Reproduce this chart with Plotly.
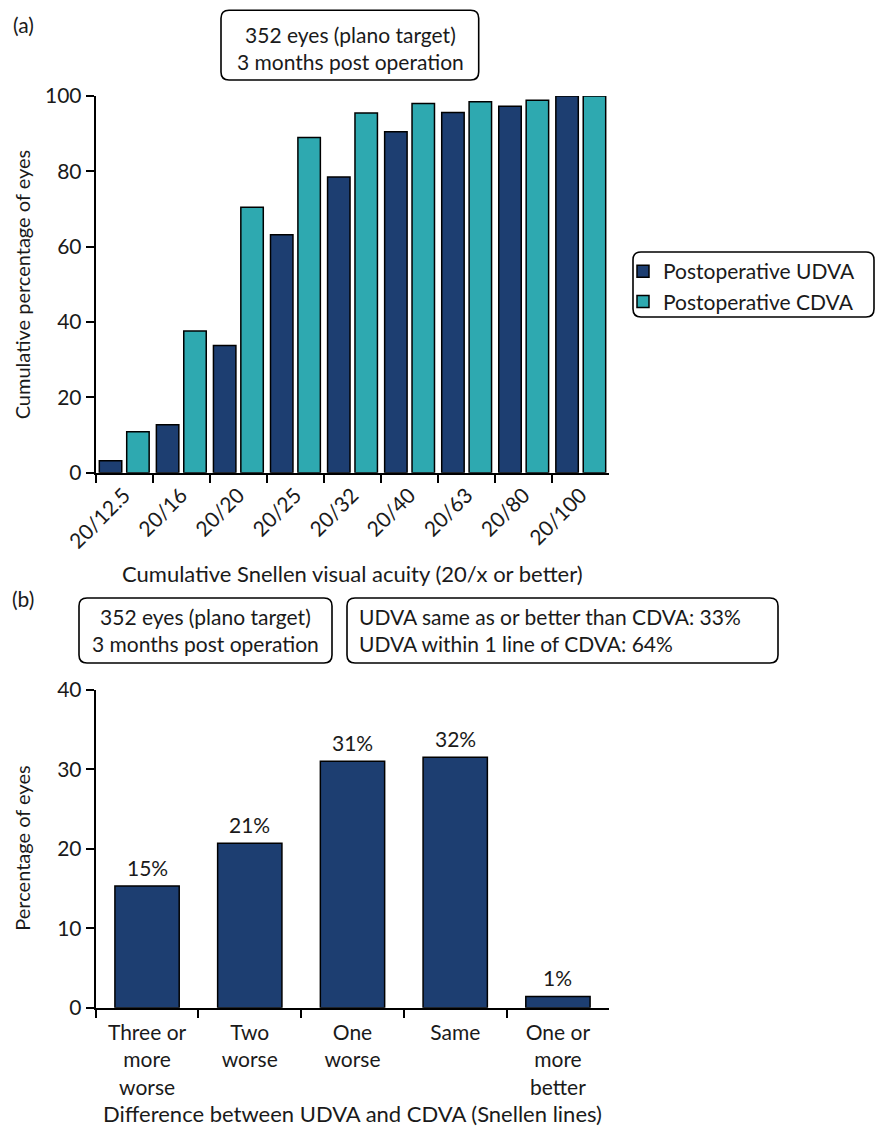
import plotly.graph_objects as go

W, H = 876, 1131

# Panel (a): cumulative Snellen visual acuity (20/x or better), % of eyes
acuity_labels = ["20/12.5", "20/16", "20/20", "20/25", "20/32", "20/40", "20/63", "20/80", "20/100"]
udva_cumulative = [3.2, 12.7, 33.8, 63.2, 78.5, 90.5, 95.6, 97.3, 100.0]
cdva_cumulative = [10.9, 37.6, 70.5, 89.0, 95.5, 98.0, 98.5, 98.9, 100.0]

# Panel (b): difference between UDVA and CDVA in Snellen lines, % of eyes
difference_labels = ["Three or<br>more<br>worse", "Two<br>worse", "One<br>worse", "Same", "One or<br>more<br>better"]
difference_pct = [15.3, 20.7, 31.0, 31.5, 1.4]

NAVY = "#1d3e71"
TEAL = "#2ea9b0"
FONT = "Lato"
FS = 21
INK = "#1a1a1a"


def px(x):
    return x / W


def py(y):
    return 1 - y / H


def rounded_box(x0, y0, x1, y1, r=8):
    path = (
        f"M {px(x0 + r)},{py(y0)} L {px(x1 - r)},{py(y0)} "
        f"Q {px(x1)},{py(y0)} {px(x1)},{py(y0 + r)} "
        f"L {px(x1)},{py(y1 - r)} Q {px(x1)},{py(y1)} {px(x1 - r)},{py(y1)} "
        f"L {px(x0 + r)},{py(y1)} Q {px(x0)},{py(y1)} {px(x0)},{py(y1 - r)} "
        f"L {px(x0)},{py(y0 + r)} Q {px(x0)},{py(y0)} {px(x0 + r)},{py(y0)} Z"
    )
    return dict(type="path", xref="paper", yref="paper", path=path,
                line=dict(color="black", width=1.6), fillcolor="rgba(0,0,0,0)", layer="above")


def text(x, y, s, xanchor="center", yanchor="middle", angle=0, size=FS, align="center"):
    return dict(x=px(x), y=py(y), xref="paper", yref="paper", text=s, showarrow=False,
                xanchor=xanchor, yanchor=yanchor, textangle=angle, align=align,
                font=dict(family=FONT, size=size, color=INK))


fig = go.Figure()

fig.add_trace(go.Bar(x=acuity_labels, y=udva_cumulative, name="Postoperative UDVA",
                     marker=dict(color=NAVY, line=dict(color="black", width=1.5)),
                     xaxis="x", yaxis="y"))
fig.add_trace(go.Bar(x=acuity_labels, y=cdva_cumulative, name="Postoperative CDVA",
                     marker=dict(color=TEAL, line=dict(color="black", width=1.5)),
                     xaxis="x", yaxis="y"))
fig.add_trace(go.Bar(x=difference_labels, y=difference_pct, width=0.626, showlegend=False,
                     marker=dict(color=NAVY, line=dict(color="black", width=1.5)),
                     xaxis="x2", yaxis="y2"))

# plot areas in page pixels
AX_L, AX_R = 95.7, 609.3
A_TOP, A_BOT = 96.0, 472.7
B_TOP, B_BOT = 689.7, 1007.7

axis_common = dict(showline=True, linecolor="black", linewidth=2, ticks="outside", ticklen=8,
                   tickwidth=2, tickcolor="black", showgrid=False, zeroline=False,
                   automargin=False, fixedrange=True,
                   tickfont=dict(family=FONT, size=FS, color=INK))

annotations = [
    text(11, 24, "(a)", xanchor="left"),
    text(10, 598, "(b)", xanchor="left"),
    # panel (a) info box
    text(350, 48, "352 eyes (plano target)<br>3 months post operation"),
    # panel (b) info boxes
    text(205.5, 630, "352 eyes (plano target)<br>3 months post operation"),
    text(357, 630, "UDVA same as or better than CDVA: 33%<br>UDVA within 1 line of CDVA: 64%",
         xanchor="left", align="left"),
    # axis titles
    text(22, (A_TOP + A_BOT) / 2, "Cumulative percentage of eyes", angle=-90, size=20),
    text((AX_L + AX_R) / 2, 573, "Cumulative Snellen visual acuity (20/x or better)", size=22),
    text(22, (B_TOP + B_BOT) / 2, "Percentage of eyes", angle=-90, size=20),
    text((AX_L + AX_R) / 2, 1113, "Difference between UDVA and CDVA (Snellen lines)", size=22),
]

# value labels above the panel (b) bars
for cat, val in zip(difference_labels, difference_pct):
    annotations.append(dict(x=cat, y=val, xref="x2", yref="y2", text=f"{val:.0f}%",
                            showarrow=False, yanchor="middle", yshift=19,
                            font=dict(family=FONT, size=FS, color=INK)))

fig.update_layout(
    width=W, height=H, margin=dict(l=0, r=0, t=0, b=0, autoexpand=False),
    paper_bgcolor="white", plot_bgcolor="white",
    font=dict(family=FONT, size=FS, color=INK),
    barmode="group", bargap=0.04, bargroupgap=0.18,
    xaxis=dict(domain=[px(AX_L), px(AX_R)], anchor="y", type="category",
               tickson="boundaries", tickangle=-45, **axis_common),
    yaxis=dict(domain=[py(A_BOT), py(A_TOP)], anchor="x", range=[0, 100], dtick=20,
               **axis_common),
    xaxis2=dict(domain=[px(AX_L), px(AX_R)], anchor="y2", type="category",
                tickson="boundaries", tickangle=0, ticklabelstandoff=5, **axis_common),
    yaxis2=dict(domain=[py(B_BOT), py(B_TOP)], anchor="x2", range=[0, 40], dtick=10,
                **axis_common),
    legend=dict(x=px(623), y=py(251), xanchor="left", yanchor="top",
                bgcolor="rgba(0,0,0,0)", borderwidth=0,
                font=dict(family=FONT, size=FS, color=INK)),
    shapes=[
        rounded_box(221, 10.3, 478.7, 80),
        rounded_box(633, 252, 874, 317),
        rounded_box(79, 598, 332, 663),
        rounded_box(347, 598, 778, 663),
    ],
    annotations=annotations,
    showlegend=True,
)

fig.write_html("out.html")
